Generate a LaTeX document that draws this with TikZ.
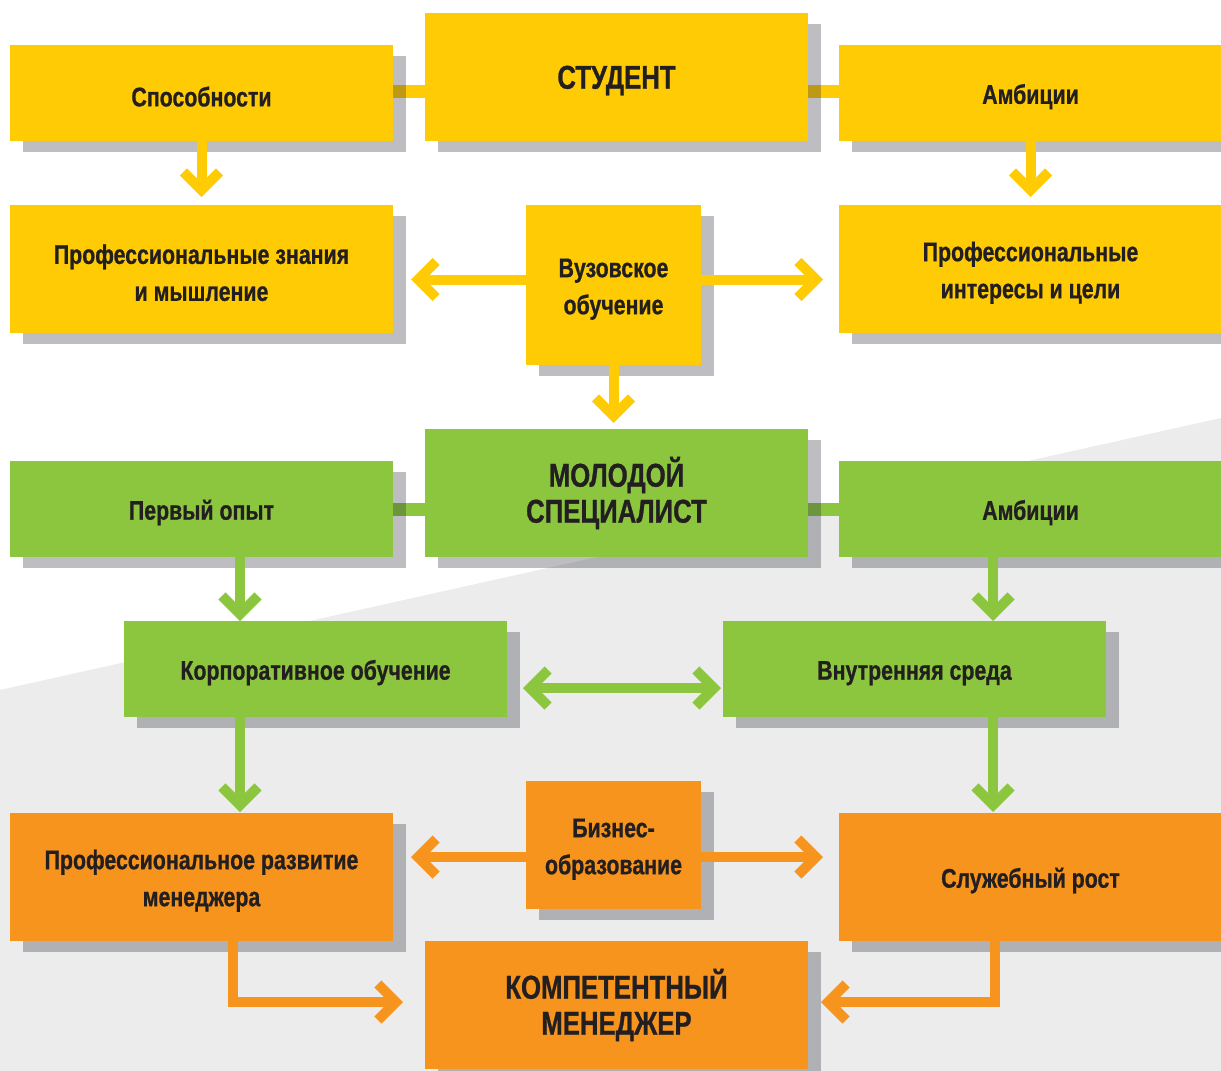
\documentclass[tikz,border=0pt]{standalone}
\usepackage{fontspec}
\newfontfamily\condfont{Liberation Sans Bold}[FakeStretch=0.79,FakeBold=0.8]
\newfontfamily\bigcondfont{Liberation Sans Bold}[FakeStretch=0.78,FakeBold=0.8]
\usetikzlibrary{arrows.meta,shadows,calc}
\definecolor{yel}{HTML}{FFCB05}
\definecolor{grn}{HTML}{8CC63F}
\definecolor{org}{HTML}{F7941D}
\definecolor{bggray}{HTML}{ECECEC}
\definecolor{shd}{HTML}{282A37}
\definecolor{txt}{HTML}{231F20}
\newcommand\lowr{\rule{0pt}{27pt}}
\pgfdeclarelayer{bglayer}
\pgfdeclarelayer{barlayer}
\pgfsetlayers{bglayer,barlayer,main}
\begin{document}
\begin{tikzpicture}[x=1pt,y=-1pt,
  box/.style={rectangle, inner sep=0pt, outer sep=0pt, anchor=north west, text=txt, align=center,
    font=\condfont\fontsize{27}{37}\selectfont,
    execute at begin node={\rule{0pt}{27pt}},
    drop shadow={shadow xshift=13pt, shadow yshift=-11pt, fill=shd, opacity=0.3}},
  wide/.style={box, minimum width=383pt},
  narrow/.style={box, minimum width=175pt},
  big/.style={font=\bigcondfont\fontsize{33}{36}\selectfont, execute at begin node={\rule{0pt}{30pt}}},
  ybox/.style={fill=yel},
  gbox/.style={fill=grn},
  obox/.style={fill=org},
  arr/.style={line width=10pt, -{Straight Barb[length=18pt,width=36pt]}},
  darr/.style={line width=10pt, {Straight Barb[length=18pt,width=36pt]}-{Straight Barb[length=18pt,width=36pt]}},
  bar/.style={line width=13pt}
]
\useasboundingbox (0,0) rectangle (1221,1071);
\begin{pgfonlayer}{bglayer}
  \fill[white] (0,0) rectangle (1221,1071);
  \fill[bggray] (0,690) -- (1221,418) -- (1221,1071) -- (0,1071) -- cycle;
\end{pgfonlayer}

% Row 1
\node[wide, ybox, minimum height=96pt] (spos) at (10,45) {Способности};
\node[wide, ybox, big, minimum height=128pt] (stud) at (425,13) {СТУДЕНТ};
\node[wide, ybox, minimum height=96pt] (amb1) at (839,45) {Амбиции};
% Row 2
\node[wide, ybox, minimum height=128pt] (zn) at (10,205) {\lowr Профессиональные знания\\и мышление};
\node[narrow, ybox, minimum height=160pt] (vuz) at (526,205) {\lowr Вузовское\\обучение};
\node[wide, ybox, minimum height=128pt] (int) at (839,205) {\lowr Профессиональные\\интересы и цели};
% Row 3
\node[wide, gbox, big, minimum height=128pt] (spec) at (425,429) {МОЛОДОЙ\\СПЕЦИАЛИСТ};
\node[wide, gbox, minimum height=96pt] (opyt) at (10,461) {Первый опыт};
\node[wide, gbox, minimum height=96pt] (amb2) at (839,461) {Амбиции};
% Row 4
\node[wide, gbox, minimum height=96pt] (korp) at (124,621) {Корпоративное обучение};
\node[wide, gbox, minimum height=96pt] (sreda) at (723,621) {Внутренняя среда};
% Row 5
\node[wide, obox, minimum height=128pt] (razv) at (10,813) {\lowr Профессиональное развитие\\менеджера};
\node[narrow, obox, minimum height=128pt] (biz) at (526,781) {\lowr Бизнес-\\образование};
\node[wide, obox, minimum height=128pt] (rost) at (839,813) {Служебный рост};
\node[wide, obox, big, minimum height=128pt] (komp) at (425,941) {КОМПЕТЕНТНЫЙ\\МЕНЕДЖЕР};

% connecting bars (under shadows)
\begin{pgfonlayer}{barlayer}
  \draw[bar, yel] ([yshift=1.5pt]spos.east) -- ([yshift=1.5pt]spos.east -| stud.west);
  \draw[bar, yel] ([yshift=1.5pt]amb1.west -| stud.east) -- ([yshift=1.5pt]amb1.west);
  \draw[bar, grn] (opyt.east) -- (opyt.east -| spec.west);
  \draw[bar, grn] (amb2.west -| spec.east) -- (amb2.west);
\end{pgfonlayer}

% yellow arrows
\draw[arr, yel, shorten >=8pt] (spos.south) -- (zn.north);
\draw[arr, yel, shorten >=8pt] (amb1.south) -- (int.north);
\draw[arr, yel, shorten >=18pt] ([yshift=5.5pt]vuz.west) -- ([yshift=5.5pt]vuz.west -| zn.east);
\draw[arr, yel, shorten >=16pt] ([yshift=5.5pt]vuz.east) -- ([yshift=5.5pt]vuz.east -| int.west);
\draw[arr, yel, shorten >=6pt] (vuz.south) -- (vuz.south |- spec.north);

% green arrows
\draw[arr, grn] ([xshift=38.5pt]opyt.south) -- ([xshift=38.5pt]opyt.south |- korp.north);
\draw[arr, grn] ([xshift=-37.5pt]amb2.south) -- ([xshift=-37.5pt]amb2.south |- sreda.north);
\draw[arr, grn, shorten >=1pt] ([xshift=-75.5pt]korp.south) -- ([xshift=-75.5pt]korp.south |- razv.north);
\draw[arr, grn, shorten >=1pt] ([xshift=78.5pt]sreda.south) -- ([xshift=78.5pt]sreda.south |- rost.north);
\draw[darr, grn, shorten <=16pt, shorten >=2pt] ([yshift=-19pt]korp.east) -- ([yshift=-19pt]korp.east -| sreda.west);

% orange arrows
\draw[arr, org, shorten >=18pt] ([yshift=-12pt]biz.west) -- ([yshift=-12pt]biz.west -| razv.east);
\draw[arr, org, shorten >=16pt] ([yshift=-12pt]biz.east) -- ([yshift=-12pt]biz.east -| rost.west);
\draw[arr, org, shorten >=22pt] ([xshift=31.5pt]razv.south) |- ([yshift=3pt]komp.west);
\draw[arr, org, shorten >=13pt] ([xshift=-35.5pt]rost.south) |- ([yshift=3pt]komp.east);
\end{tikzpicture}
\end{document}
